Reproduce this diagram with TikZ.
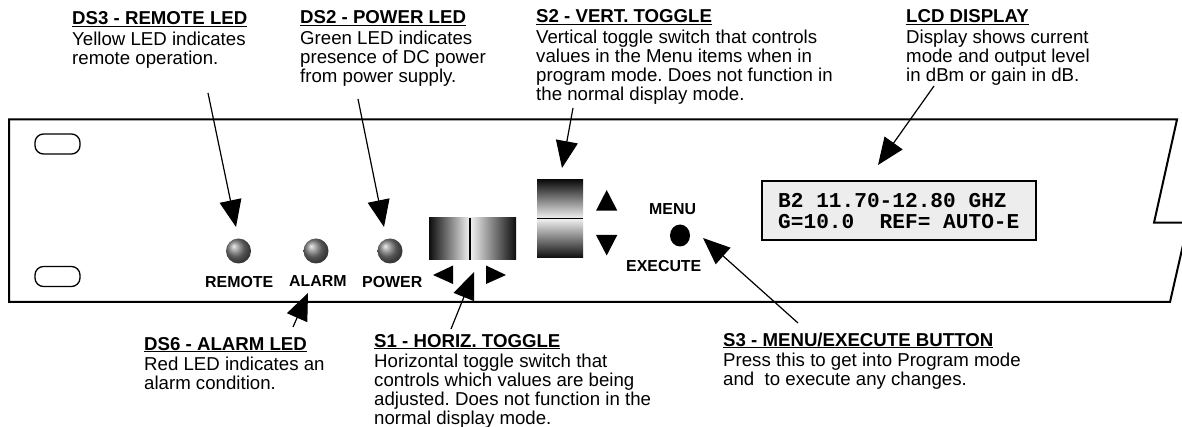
\documentclass[tikz,border=0pt]{standalone}
\usepackage{fontspec}
\setmainfont{Liberation Sans}
\newfontfamily\lcdfont{Liberation Mono}
\usetikzlibrary{arrows.meta,shadings,shapes.geometric}
\frenchspacing
\newcommand\hdline[1]{\setbox0\hbox{\textbf{#1}}\hbox{\copy0\kern-\wd0\raise-2.2pt\hbox{\vrule width\wd0 height 1.1pt depth 0pt}}\kern1.8pt}
\newcommand\rowtxt[1]{\hbox{#1}}
\newcommand\cblock[2]{\vtop{\baselineskip=19pt\lineskiplimit=-30pt\hdline{#1}#2}}
\tikzset{
  x=1pt,y=-1pt,
  txt/.style={anchor=base west,inner sep=0pt,font=\fontsize{18.65}{19}\selectfont,text=black},
  panel/.style={line width=2pt,black},
  slot/.style={draw=black,line width=1.3pt,rounded corners=8.5pt,fill=white},
  led/.style={circle,minimum size=25pt,inner sep=0pt,shading=ball,ball color=black!52},
  tag/.style={anchor=base west,inner sep=0pt,font=\fontsize{15.9}{18}\selectfont\bfseries},
  callout/.style={line width=1.2pt,-{Triangle[length=27pt,width=22pt]},shorten >=0pt},
  tri/.style={fill=black},
}
\begin{document}
\begin{tikzpicture}
\useasboundingbox (0,0) rectangle (1182,427);
\fill[white] (0,0) rectangle (1182,427);
% panel
\draw[panel,miter limit=10] (1183,222.7) -- (1154,222.7) -- (1177,119.5) -- (9,119.5) -- (9,302) -- (1170,302) -- (1183,245);
\node[slot,minimum width=45pt,minimum height=20pt,inner sep=0pt] (slota) at (57.5,144) {};
\node[slot,minimum width=45pt,minimum height=20pt,inner sep=0pt] (slotb) at (57.5,276.5) {};
% LEDs
\node[led] (ledr) at (238.5,251) {};
\node[led] (leda) at (316,251) {};
\node[led] (ledp) at (390,251) {};
\node[tag] (lblr) at (205,288) {REMOTE};
\node[tag] (lbla) at (289,287) {ALARM};
\node[tag] (lblp) at (362,288) {POWER};
% horizontal toggle
\shade[left color=black!95,right color=black!5] (429,218) rectangle (470,260);
\shade[left color=black!5,right color=black!95] (470,218) rectangle (516,260);
\draw[line width=1.6pt] (470,218) -- (470,260);
% vertical toggle
\shade[top color=black!95,bottom color=black!5] (537,180) rectangle (583,218.5);
\shade[top color=black!5,bottom color=black!95] (537,218.5) rectangle (583,258);
\draw[line width=1.6pt] (537,218.5) -- (583,218.5);
% direction triangles
\fill[tri] (606.7,190) -- (617.3,210.7) -- (596,210.7) -- cycle;
\fill[tri] (606.7,255.5) -- (617.3,235) -- (596,235) -- cycle;
\fill[tri] (433,275) -- (453,265.5) -- (453,284) -- cycle;
\fill[tri] (506,275) -- (486,265.5) -- (486,284) -- cycle;
% button
\node[fill=black,ellipse,inner sep=0pt,minimum width=20pt,minimum height=22pt] (btn) at (680,235.5) {};
\node[tag] (lblm) at (649,215) {MENU};
\node[tag] (lble) at (626,272) {EXECUTE};
% LCD
\node[draw=black,line width=2pt,fill=black!7,minimum width=274pt,minimum height=59pt,inner sep=0pt] (lcd) at (899,210.5) {};
\node[anchor=base west,inner sep=0pt,font=\lcdfont\fontsize{21.15}{21}\selectfont\bfseries] (lcdtxt) at (778,208) {\vtop{\baselineskip=21pt\hbox{B2 11.70-12.80 GHZ}\hbox{G=10.0\ \ REF= AUTO-E}}};
% callout texts
\node[txt] (ds3) at (72,25) {\cblock{DS3 - REMOTE LED}{\rowtxt{Yellow LED indicates}\rowtxt{remote operation.}}};
\node[txt] (ds2) at (300,24) {\cblock{DS2 - POWER LED}{\rowtxt{Green LED indicates}\rowtxt{presence of DC power}\rowtxt{from power supply.}}};
\node[txt] (s2) at (536,23) {\cblock{S2 - VERT. TOGGLE}{\rowtxt{Vertical toggle switch that controls}\rowtxt{values in the Menu items when in}\rowtxt{program mode. Does not function in}\rowtxt{the normal display mode.}}};
\node[txt] (lcdt) at (906,23) {\cblock{LCD DISPLAY}{\rowtxt{Display shows current}\rowtxt{mode and output level}\rowtxt{in dBm or gain in dB.}}};
\node[txt] (ds6) at (144,350) {\cblock{DS6 - ALARM LED}{\rowtxt{Red LED indicates an}\rowtxt{alarm condition.}}};
\node[txt] (s1) at (374,347) {\cblock{S1 - HORIZ. TOGGLE}{\rowtxt{Horizontal toggle switch that}\rowtxt{controls which values are being}\rowtxt{adjusted. Does not function in the}\rowtxt{normal display mode.}}};
\node[txt] (s3) at (723,346) {\cblock{S3 - MENU/EXECUTE BUTTON}{\rowtxt{Press this to get into Program mode}\rowtxt{and\ \ to execute any changes.}}};
% connector ends
\coordinate (ds3a) at (208,93);   \coordinate (ds3b) at (236,227);
\coordinate (ds2a) at (358,99);   \coordinate (ds2b) at (384,227);
\coordinate (s2a)  at (573,108);  \coordinate (s2b)  at (562,168);
\coordinate (lcda) at (934,86);   \coordinate (lcdb) at (878,165);
\coordinate (ds6a) at (293,327);  \coordinate (ds6b) at (308,293);
\coordinate (s1a)  at (451,329);  \coordinate (s1b)  at (474,272);
\coordinate (s3a)  at (798,323);  \coordinate (s3b)  at (703,238);
\draw[callout] (ds3a) -- (ds3b);
\draw[callout] (ds2a) -- (ds2b);
\draw[callout] (s2a) -- (s2b);
\draw[callout] (lcda) -- (lcdb);
\draw[callout] (ds6a) -- (ds6b);
\draw[callout] (s1a) -- (s1b);
\draw[callout] (s3a) -- (s3b);
\end{tikzpicture}
\end{document}
